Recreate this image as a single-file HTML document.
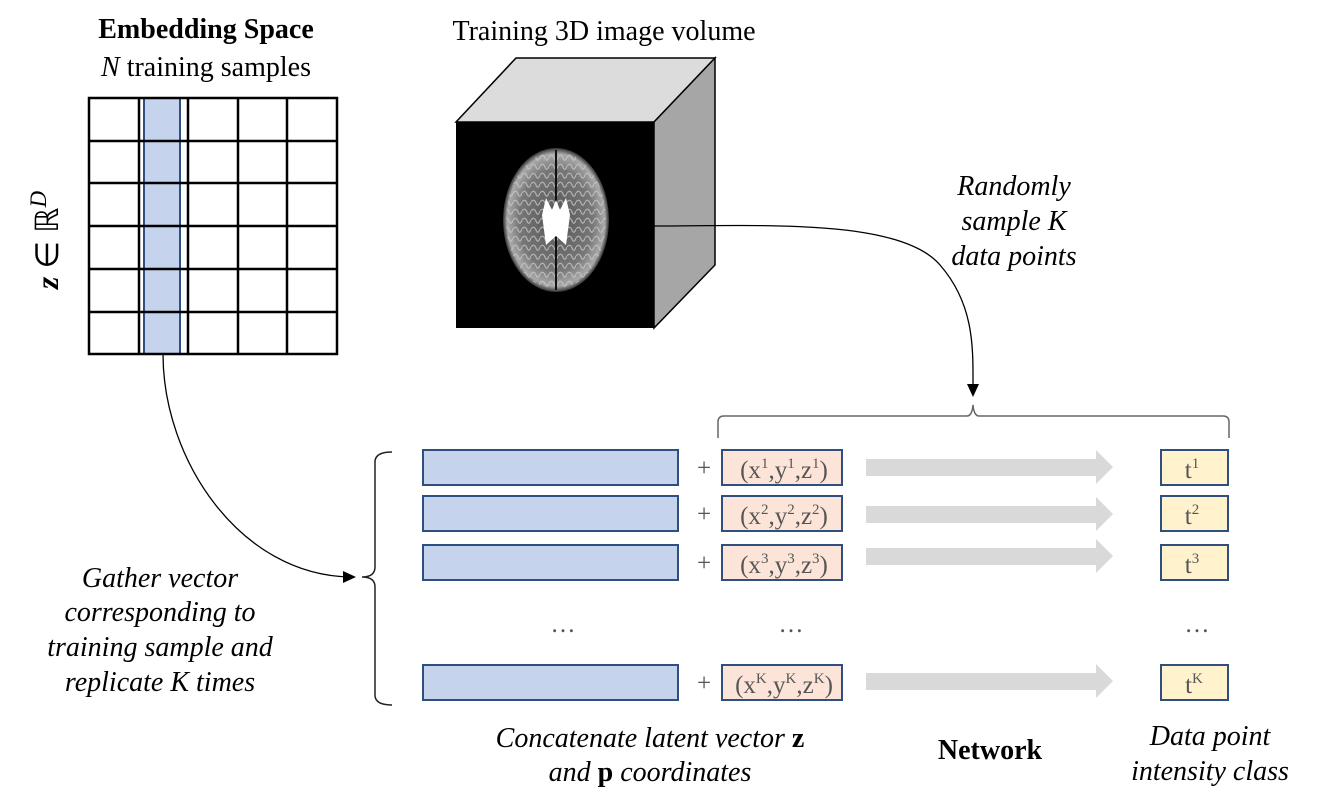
<!DOCTYPE html>
<html><head><meta charset="utf-8"><style>
body{margin:0;background:#fff}
svg{display:block}
text{font-family:"Liberation Serif",serif}
</style></head><body>
<svg width="1325" height="806" viewBox="0 0 1325 806" xmlns="http://www.w3.org/2000/svg">
<defs>
<radialGradient id="br" cx="50%" cy="50%" r="50%">
<stop offset="0" stop-color="#555"/><stop offset="0.7" stop-color="#777"/><stop offset="0.92" stop-color="#aaa"/><stop offset="1" stop-color="#333"/>
</radialGradient>
<pattern id="gy" width="9" height="9" patternUnits="userSpaceOnUse">
<path d="M0,4 Q3,0 5,5 T9,4" stroke="#ccc" stroke-width="1.3" fill="none"/>
</pattern>
</defs>
<!-- Titles -->
<text x="206" y="38" font-size="28" font-weight="bold" text-anchor="middle">Embedding Space</text>
<text x="206" y="76" font-size="28" text-anchor="middle"><tspan font-style="italic">N</tspan> training samples</text>
<text x="604" y="40" font-size="28" text-anchor="middle">Training 3D image volume</text>
<!-- grid -->
<rect x="144" y="98" width="36" height="256" fill="#c5d3ec" stroke="#2f4f7f" stroke-width="2"/>
<g stroke="#000" stroke-width="2.5" fill="none">
<rect x="89" y="98" width="248" height="256"/>
<line x1="139" y1="98" x2="139" y2="354"/><line x1="188" y1="98" x2="188" y2="354"/>
<line x1="238" y1="98" x2="238" y2="354"/><line x1="287" y1="98" x2="287" y2="354"/>
<line x1="89" y1="141" x2="337" y2="141"/><line x1="89" y1="183" x2="337" y2="183"/>
<line x1="89" y1="226" x2="337" y2="226"/><line x1="89" y1="269" x2="337" y2="269"/>
<line x1="89" y1="312" x2="337" y2="312"/>
</g>
<text transform="translate(58,240) rotate(-90)" font-size="32" text-anchor="middle"><tspan font-weight="bold" font-style="italic">z</tspan> ∈ ℝ<tspan font-style="italic" font-size="23" dy="-12">D</tspan></text>
<!-- cube -->
<polygon points="456,122 516,58 715,58 654,122" fill="#dcdcdc" stroke="#000" stroke-width="1.5"/>
<polygon points="654,122 715,58 715,265 654,328" fill="#a6a6a6" stroke="#000" stroke-width="1.5"/>
<rect x="456" y="122" width="198" height="206" fill="#000"/>
<ellipse cx="556" cy="220" rx="53" ry="72" fill="url(#br)"/>
<ellipse cx="556" cy="220" rx="50" ry="69" fill="url(#gy)" opacity="0.7"/>
<line x1="556" y1="150" x2="556" y2="290" stroke="#111" stroke-width="2"/>
<path d="M546,198 L552,210 L556,200 L560,210 L566,198 L570,215 L566,245 L556,236 L546,245 L542,215 Z" fill="#fff"/>
<!-- curve from cube to brace -->
<path d="M654,226 C760,226 900,218 940,265 C975,305 973,350 973,388" fill="none" stroke="#000" stroke-width="1.3"/>
<polygon points="967,384 979,384 973,397" fill="#000"/>
<text x="1014" y="195" font-size="28" font-style="italic" text-anchor="middle">Randomly</text>
<text x="1014" y="230" font-size="28" font-style="italic" text-anchor="middle">sample K</text>
<text x="1014" y="265" font-size="28" font-style="italic" text-anchor="middle">data points</text>
<!-- top brace -->
<path d="M718,438 L718,422 Q718,416 724,416 L967,416 Q972,416 973,405 Q974,416 979,416 L1223,416 Q1229,416 1229,422 L1229,438" fill="none" stroke="#666" stroke-width="1.5"/>
<!-- curve from grid to left brace -->
<path d="M163,354 C163,460 240,575 350,577" fill="none" stroke="#000" stroke-width="1.3"/>
<polygon points="343,571 343,583 356,577" fill="#000"/>
<path d="M392,452 Q375,452 375,462 L375,567 Q375,577 362,577 Q375,577 375,587 L375,695 Q375,705 392,705" fill="none" stroke="#222" stroke-width="1.5"/>
<text x="160" y="587" font-size="28" font-style="italic" text-anchor="middle">Gather vector</text>
<text x="160" y="621" font-size="28" font-style="italic" text-anchor="middle">corresponding to</text>
<text x="160" y="656" font-size="28" font-style="italic" text-anchor="middle">training sample and</text>
<text x="160" y="691" font-size="28" font-style="italic" text-anchor="middle">replicate K times</text>
<!-- rows -->
<g stroke="#2f4f7f" stroke-width="2">
<rect x="423" y="450" width="255" height="35" fill="#c5d3ec"/>
<rect x="423" y="496" width="255" height="35" fill="#c5d3ec"/>
<rect x="423" y="545" width="255" height="35" fill="#c5d3ec"/>
<rect x="423" y="665" width="255" height="35" fill="#c5d3ec"/>
<rect x="722" y="450" width="120" height="35" fill="#fce5d8"/>
<rect x="722" y="496" width="120" height="35" fill="#fce5d8"/>
<rect x="722" y="545" width="120" height="35" fill="#fce5d8"/>
<rect x="722" y="665" width="120" height="35" fill="#fce5d8"/>
<rect x="1161" y="450" width="67" height="35" fill="#fff2cc"/>
<rect x="1161" y="496" width="67" height="35" fill="#fff2cc"/>
<rect x="1161" y="545" width="67" height="35" fill="#fff2cc"/>
<rect x="1161" y="665" width="67" height="35" fill="#fff2cc"/>
</g>
<g fill="#555" font-size="25">
<text x="704" y="476" text-anchor="middle">+</text>
<text x="704" y="522" text-anchor="middle">+</text>
<text x="704" y="571" text-anchor="middle">+</text>
<text x="704" y="691" text-anchor="middle">+</text>
<text x="784" y="478" text-anchor="middle">(x<tspan font-size="15" dy="-10">1</tspan><tspan dy="10">,y</tspan><tspan font-size="15" dy="-10">1</tspan><tspan dy="10">,z</tspan><tspan font-size="15" dy="-10">1</tspan><tspan dy="10">)</tspan></text>
<text x="784" y="524" text-anchor="middle">(x<tspan font-size="15" dy="-10">2</tspan><tspan dy="10">,y</tspan><tspan font-size="15" dy="-10">2</tspan><tspan dy="10">,z</tspan><tspan font-size="15" dy="-10">2</tspan><tspan dy="10">)</tspan></text>
<text x="784" y="573" text-anchor="middle">(x<tspan font-size="15" dy="-10">3</tspan><tspan dy="10">,y</tspan><tspan font-size="15" dy="-10">3</tspan><tspan dy="10">,z</tspan><tspan font-size="15" dy="-10">3</tspan><tspan dy="10">)</tspan></text>
<text x="784" y="693" text-anchor="middle">(x<tspan font-size="15" dy="-10">K</tspan><tspan dy="10">,y</tspan><tspan font-size="15" dy="-10">K</tspan><tspan dy="10">,z</tspan><tspan font-size="15" dy="-10">K</tspan><tspan dy="10">)</tspan></text>
<text x="1192" y="478" text-anchor="middle">t<tspan font-size="15" dy="-10">1</tspan></text>
<text x="1192" y="524" text-anchor="middle">t<tspan font-size="15" dy="-10">2</tspan></text>
<text x="1192" y="573" text-anchor="middle">t<tspan font-size="15" dy="-10">3</tspan></text>
<text x="1194" y="693" text-anchor="middle">t<tspan font-size="15" dy="-10">K</tspan></text>
<text x="563" y="632" text-anchor="middle">…</text>
<text x="791" y="632" text-anchor="middle">…</text>
<text x="1197" y="632" text-anchor="middle">…</text>
</g>
<g fill="#d9d9d9">
<polygon points="866,459 1096,459 1096,450 1113,467 1096,484 1096,476 866,476"/>
<polygon points="866,506 1096,506 1096,497 1113,514 1096,531 1096,523 866,523"/>
<polygon points="866,548 1096,548 1096,539 1113,556 1096,573 1096,565 866,565"/>
<polygon points="866,673 1096,673 1096,664 1113,681 1096,698 1096,690 866,690"/>
</g>
<text x="650" y="747" font-size="28" font-style="italic" text-anchor="middle">Concatenate latent vector <tspan font-weight="bold" font-style="normal">z</tspan></text>
<text x="650" y="781" font-size="28" font-style="italic" text-anchor="middle">and <tspan font-weight="bold" font-style="normal">p</tspan> coordinates</text>
<text x="990" y="759" font-size="28" font-weight="bold" text-anchor="middle">Network</text>
<text x="1210" y="745" font-size="28" font-style="italic" text-anchor="middle">Data point</text>
<text x="1210" y="780" font-size="28" font-style="italic" text-anchor="middle">intensity class</text>
</svg>
</body></html>
